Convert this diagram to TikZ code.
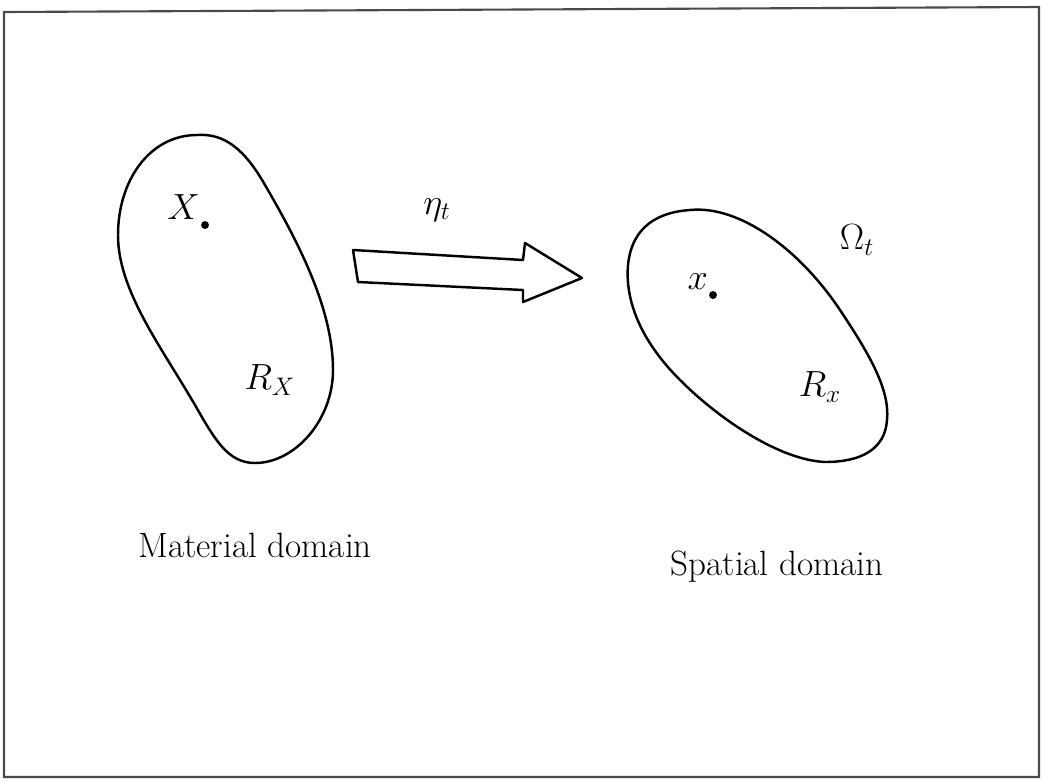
\documentclass[tikz,border=0pt]{standalone}
\usepackage{amsmath,amssymb}
\usepackage{tikz}
\usetikzlibrary{arrows.meta,positioning,calc}
\usepackage{xcolor}
\definecolor{framegray}{HTML}{4A4A4A}

\begin{document}
\begin{tikzpicture}[
  x=0.02cm, y=-0.02cm,
  blob/.style={draw, line width=1.4pt, line join=round},
  pt/.style={circle, fill, inner sep=0pt, minimum size=4.5pt},
  lbl/.style={font=\fontsize{20}{24}\selectfont},
]
  \useasboundingbox (0,0) rectangle (1041,782);
  \draw[framegray, line width=1.2pt] (4,12) -- (1039,7) -- (1039,777) -- (4,777) -- cycle;

  % material domain
  \draw[blob] (197,135) .. controls (225,133) and (245,150) .. (265,185)
    .. controls (300,245) and (333,310) .. (333,370)
    .. controls (333,420) and (295,463) .. (255,463)
    .. controls (228,463) and (215,440) .. (195,405)
    .. controls (160,345) and (118,290) .. (118,235)
    .. controls (118,180) and (150,135) .. (197,135) -- cycle;
  \node[pt] (ptX) at (205,225) {};
  \node[lbl, anchor=south east, inner sep=1pt] (lX) at (ptX.north west) {$X$};
  \node[lbl] (RX) at (270,380) {$R_X$};
  \node[lbl] (mat) at (255,545) {Material domain};

  % mapping
  \coordinate (a1) at (353,250);
  \coordinate (a2) at (523,260);
  \coordinate (a3) at (525,243);
  \coordinate (tip) at (582,278);
  \coordinate (a5) at (523,302);
  \coordinate (a6) at (523,290);
  \coordinate (a7) at (358,282);
  \draw[line width=1.4pt, line join=round] (a1) -- (a2) -- (a3) -- (tip) -- (a5) -- (a6) -- (a7) -- cycle;
  \node[lbl] (etalbl) at (437,210) {$\eta_t$};

  % spatial domain
  \draw[blob] (690,210) .. controls (740,205) and (800,250) .. (840,310)
    .. controls (870,355) and (890,390) .. (887,420)
    .. controls (885,450) and (860,462) .. (825,462)
    .. controls (780,460) and (720,420) .. (680,380)
    .. controls (640,340) and (625,300) .. (628,265)
    .. controls (632,225) and (660,212) .. (690,210) -- cycle;
  \node[pt] (ptx) at (713,295) {};
  \node[lbl, anchor=south east, inner sep=1pt] (lx) at (ptx.north west) {$x$};
  \node[lbl] (Rx) at (820,387) {$R_x$};
  \node[lbl] (Om) at (857,240) {$\Omega_t$};
  \node[lbl] (spa) at (777,567) {Spatial domain};
\end{tikzpicture}
\end{document}
